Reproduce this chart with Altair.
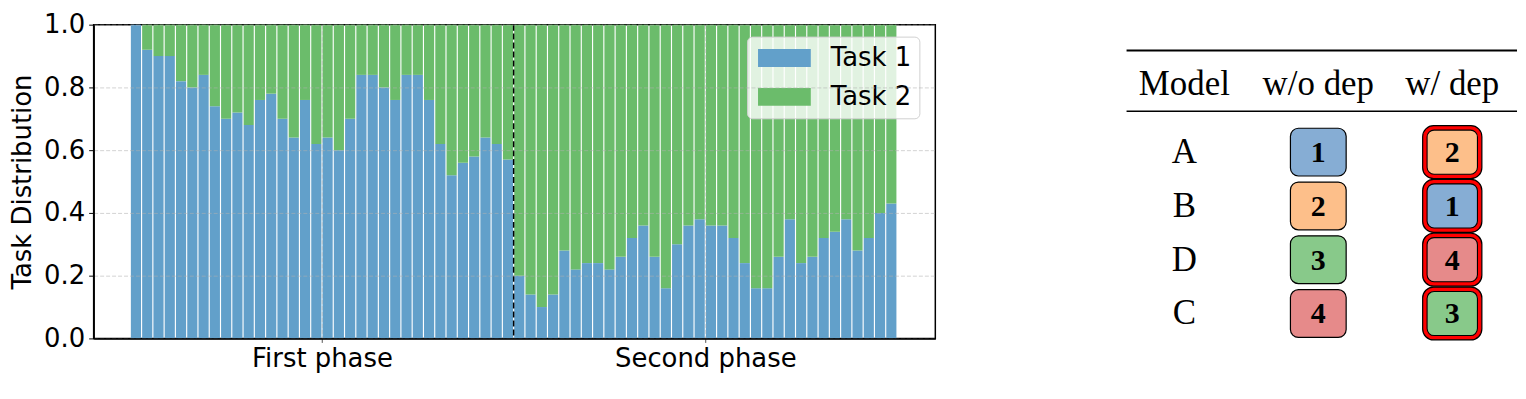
import altair as alt
import pandas as pd

# ---------------- data ----------------
phase_names = ["First phase", "Second phase"]
task_names = ["Task 1", "Task 2"]
task_colors = ["#62A0CA", "#6BBC6B"]

task1_first = [1.00, 0.92, 0.90, 0.90, 0.82, 0.80, 0.84, 0.74, 0.70, 0.72, 0.68, 0.76,
               0.78, 0.70, 0.64, 0.76, 0.62, 0.64, 0.60, 0.70, 0.84, 0.84, 0.80, 0.76,
               0.84, 0.84, 0.76, 0.62, 0.52, 0.56, 0.58, 0.64, 0.62, 0.57]
task2_first = [0.00, 0.08, 0.10, 0.10, 0.18, 0.20, 0.16, 0.26, 0.30, 0.28, 0.32, 0.24,
               0.22, 0.30, 0.36, 0.24, 0.38, 0.36, 0.40, 0.30, 0.16, 0.16, 0.20, 0.24,
               0.16, 0.16, 0.24, 0.38, 0.48, 0.44, 0.42, 0.36, 0.38, 0.43]
task1_second = [0.20, 0.14, 0.10, 0.14, 0.28, 0.22, 0.24, 0.24, 0.22, 0.26, 0.32, 0.36,
                0.26, 0.16, 0.30, 0.36, 0.38, 0.36, 0.36, 0.32, 0.24, 0.16, 0.16, 0.26,
                0.38, 0.24, 0.26, 0.32, 0.34, 0.38, 0.28, 0.32, 0.40, 0.43]
task2_second = [0.80, 0.86, 0.90, 0.86, 0.72, 0.78, 0.76, 0.76, 0.78, 0.74, 0.68, 0.64,
                0.74, 0.84, 0.70, 0.64, 0.62, 0.64, 0.64, 0.68, 0.76, 0.84, 0.84, 0.74,
                0.62, 0.76, 0.74, 0.68, 0.66, 0.62, 0.72, 0.68, 0.60, 0.57]

table_headers = ["Model", "w/o dep", "w/ dep"]
models = ["A", "B", "D", "C"]
rank_without_dep = [1, 2, 3, 4]
rank_with_dep = [2, 1, 4, 3]
rank_values = [1, 2, 3, 4]
rank_colors = ["#86ADD4", "#FDBF8A", "#88C98A", "#E68A8A"]

# ---------------- bar chart ----------------
t1 = task1_first + task1_second
t2 = task2_first + task2_second
rows = []
for i, (a, b) in enumerate(zip(t1, t2)):
    rows.append({"idx": i, "task": task_names[0], "lo": 0.0, "hi": a})
    rows.append({"idx": i, "task": task_names[1], "lo": a, "hi": a + b})
bar_df = pd.DataFrame(rows)

n1 = len(task1_first)
n2 = len(task1_second)
phase_centers = [(n1 - 1) / 2, n1 + (n2 - 1) / 2]
boundary = n1 - 0.5
label_expr = f"datum.value < {boundary} ? '{phase_names[0]}' : '{phase_names[1]}'"

SANS = "DejaVu Sans"
FS = 26

# wide flat rectangle as legend patch (drawn 4r wide, layout size 2r)
legend_symbol = "M-2,-0.68L2,-0.68L2,0.68L-2,0.68Z"

bars = alt.Chart(bar_df).transform_calculate(
    x0="datum.idx - 0.45", x1="datum.idx + 0.45"
).mark_rect().encode(
    x=alt.X("x0:Q",
            scale=alt.Scale(domain=[-3.75, 70.9], nice=False, zero=False),
            axis=alt.Axis(values=phase_centers, labelExpr=label_expr, title=None,
                          grid=True, gridColor="#b0b0b0", gridDash=[4, 2], gridOpacity=0.7,
                          gridWidth=0.8, tickSize=4, tickColor="#555", labelPadding=3,
                          labelFont=SANS, labelFontSize=FS, labelColor="black",
                          labelLimit=500, labelOverlap=False,
                          domainColor="black", domainWidth=1.5, zindex=1)),
    x2="x1:Q",
    y=alt.Y("lo:Q",
            scale=alt.Scale(domain=[0, 1], nice=False),
            axis=alt.Axis(values=[0, 0.2, 0.4, 0.6, 0.8, 1.0], format=".1f",
                          title="Task Distribution", titleFont=SANS, titleFontSize=FS,
                          titleFontWeight="normal", titleColor="black", titlePadding=8,
                          grid=True, gridColor="#b0b0b0", gridDash=[4, 2], gridOpacity=0.7,
                          gridWidth=0.8, tickSize=5, tickColor="black", labelPadding=4,
                          labelFont=SANS, labelFontSize=FS, labelColor="black",
                          domainColor="black", domainWidth=1.5, zindex=1)),
    y2="hi:Q",
    color=alt.Color("task:N",
                    scale=alt.Scale(domain=task_names, range=task_colors),
                    legend=alt.Legend(title=None, orient="none", legendX=656, legendY=12,
                                      fillColor="rgba(255,255,255,0.8)", strokeColor="#d0d0d0",
                                      cornerRadius=5, padding=8,
                                      symbolType=legend_symbol, symbolSize=702,
                                      symbolOffset=16, symbolStrokeWidth=0, symbolOpacity=1,
                                      labelFont=SANS, labelFontSize=FS, labelColor="black",
                                      labelOffset=33, rowPadding=12)),
)

divider = alt.Chart(pd.DataFrame({"b": [boundary]})).mark_rule(
    color="black", strokeDash=[6, 3], strokeWidth=1.5
).encode(x="b:Q")

bar_chart = alt.layer(bars, divider).properties(
    width=845, height=315,
    view=alt.ViewBackground(stroke="black", strokeWidth=1.5)
)

# ---------------- table ----------------
SERIF = "Liberation Serif"
TFS = 35

head_df = pd.DataFrame({"col": [0, 1, 2], "row": [0, 0, 0], "text": table_headers})
model_df = pd.DataFrame({"col": [0] * len(models), "row": list(range(1, len(models) + 1)),
                         "text": models})
wo_df = pd.DataFrame({"col": [1] * len(models), "row": list(range(1, len(models) + 1)),
                      "rank": rank_without_dep})
w_df = pd.DataFrame({"col": [2] * len(models), "row": list(range(1, len(models) + 1)),
                     "rank": rank_with_dep})
rule_df = pd.DataFrame({"row": [0]})

xs = alt.Scale(domain=[0, 2], range=[58, 327], nice=False, zero=False)
ys = alt.Scale(domain=[4.463, -1.370], nice=False, zero=False)
rank_scale = alt.Scale(domain=rank_values, range=rank_colors)


def box(df, hw, hh, **mark_kw):
    return alt.Chart(df).transform_calculate(
        xa=f"datum.col - {hw}", xb=f"datum.col + {hw}",
        ya=f"datum.row - {hh}", yb=f"datum.row + {hh}"
    ).mark_rect(**mark_kw).encode(
        x=alt.X("xa:Q", scale=xs, axis=None), x2="xb:Q",
        y=alt.Y("ya:Q", scale=ys, axis=None), y2="yb:Q",
    )


wo_boxes = box(wo_df, 0.208, 0.444, stroke="black", strokeWidth=1.2, cornerRadius=8).encode(
    fill=alt.Fill("rank:O", scale=rank_scale, legend=None))
w_outer = box(w_df, 0.221, 0.492, fill="#FF0000", stroke="black", strokeWidth=1.2,
              cornerRadius=11)
w_inner = box(w_df, 0.188, 0.41, stroke="black", strokeWidth=1.1, cornerRadius=7).encode(
    fill=alt.Fill("rank:O", scale=rank_scale, legend=None))

num_kw = dict(font=SERIF, fontSize=30, fontWeight="bold", color="black",
              baseline="middle", align="center", yOffset=1)
wo_nums = alt.Chart(wo_df).mark_text(**num_kw).encode(
    x=alt.X("col:Q", scale=xs, axis=None), y=alt.Y("row:Q", scale=ys, axis=None),
    text="rank:N")
w_nums = alt.Chart(w_df).mark_text(**num_kw).encode(
    x=alt.X("col:Q", scale=xs, axis=None), y=alt.Y("row:Q", scale=ys, axis=None),
    text="rank:N")

head_text = alt.Chart(head_df).mark_text(
    font=SERIF, fontSize=TFS, color="black", baseline="middle", align="center", yOffset=-14
).encode(x=alt.X("col:Q", scale=xs, axis=None), y=alt.Y("row:Q", scale=ys, axis=None),
         text="text:N")
model_text = alt.Chart(model_df).mark_text(
    font=SERIF, fontSize=TFS, color="black", baseline="middle", align="center", yOffset=0
).encode(x=alt.X("col:Q", scale=xs, axis=None), y=alt.Y("row:Q", scale=ys, axis=None),
         text="text:N")

top_rule = alt.Chart(rule_df).mark_rule(color="black", strokeWidth=2, yOffset=-48).encode(
    y=alt.Y("row:Q", scale=ys, axis=None), x=alt.value(0), x2=alt.value("width"))
mid_rule = alt.Chart(rule_df).mark_rule(color="black", strokeWidth=1.5, yOffset=13).encode(
    y=alt.Y("row:Q", scale=ys, axis=None), x=alt.value(0), x2=alt.value("width"))

table = alt.layer(top_rule, mid_rule, head_text, model_text, wo_boxes, wo_nums,
                  w_outer, w_inner, w_nums).properties(width=392, height=315)

chart = alt.hconcat(bar_chart, table, spacing=190).resolve_scale(
    x="independent", y="independent", color="independent", fill="independent"
).properties(padding={"left": 0, "top": 2, "right": 0, "bottom": 0}).configure_view(
    stroke=None
)

chart.save("out.html", embed_options={"renderer": "svg", "actions": False})
